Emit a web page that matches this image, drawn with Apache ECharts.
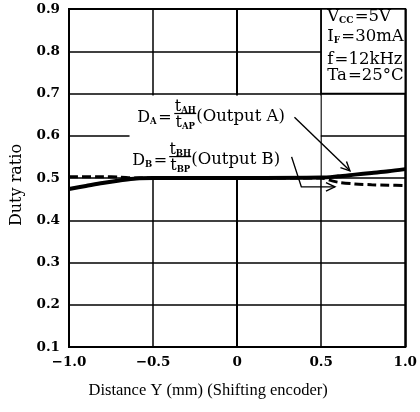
<!DOCTYPE html>
<html>
<head>
<meta charset="utf-8">
<script src="https://cdn.jsdelivr.net/npm/echarts@6/dist/echarts.min.js"></script>
<style>html,body{margin:0;padding:0;background:#fff;}#c{width:420px;height:412px;}</style>
</head>
<body>
<div id="c"></div>
<script>
// ---- data ----
const xTickLabels = {'-1': '\u22121.0', '-0.5': '\u22120.5', '0': '0', '0.5': '0.5', '1': '1.0'};
const daX = [-1.0, -0.9, -0.8, -0.7, -0.6, -0.5, 0.0, 0.5, 0.6, 0.7, 0.8, 0.9, 1.0];
const daY = [0.474, 0.481, 0.488, 0.494, 0.499, 0.500, 0.500, 0.501, 0.504, 0.508, 0.512, 0.516, 0.521];
const dbX = [-1.0, -0.8, -0.7, -0.6, 0.0, 0.5, 0.55, 0.6, 0.7, 0.8, 0.9, 1.0];
const dbY = [0.503, 0.503, 0.502, 0.500, 0.500, 0.500, 0.495, 0.490, 0.486, 0.484, 0.483, 0.482];
const conditions = [
  ['V', 'CC', '=5V'],
  ['I', 'F', '=30mA'],
  ['f', '', '=12kHz'],
  ['Ta', '', '=25\u00B0C']
];

const FONT = '"DejaVu Serif", "Liberation Serif", serif';
const FONT2 = '"Liberation Serif", "DejaVu Serif", serif';
const chart = echarts.init(document.getElementById('c'), null, {renderer: 'canvas'});

const option = {
  animation: false,
  backgroundColor: '#fff',
  grid: {left: 69, right: 11, top: 9, bottom: 65, show: true, borderColor: '#000', borderWidth: 2, backgroundColor: 'transparent'},
  xAxis: {
    type: 'value', min: -1, max: 1, interval: 0.5,
    name: 'Distance Y (mm) (Shifting encoder)', nameLocation: 'middle', nameGap: 35,
    nameTextStyle: {fontFamily: FONT2, fontSize: 16.5, color: '#000', padding: [0, 58, 0, 0]},
    axisLine: {show: true, lineStyle: {color: '#000', width: 2}},
    axisTick: {show: false},
    axisLabel: {fontFamily: FONT, fontSize: 13.5, fontWeight: 'bold', color: '#000', margin: 8,
      formatter: v => xTickLabels[String(Math.round(v * 10) / 10)] || ''},
    splitLine: {show: true, lineStyle: {color: '#000', width: 1.5}}
  },
  yAxis: {
    type: 'value', min: 0.1, max: 0.9, interval: 0.1,
    name: 'Duty ratio', nameLocation: 'middle', nameGap: 44, nameRotate: 90,
    nameTextStyle: {fontFamily: FONT, fontSize: 16, color: '#000', padding: [0, 14, 0, 0]},
    axisLine: {show: true, lineStyle: {color: '#000', width: 2}},
    axisTick: {show: false},
    axisLabel: {fontFamily: FONT, fontSize: 13.5, fontWeight: 'bold', color: '#000', margin: 9,
      formatter: v => v.toFixed(1)},
    splitLine: {show: true, lineStyle: {color: '#000', width: 1.5}}
  },
  series: [
    {
      name: 'covers', type: 'line', data: [], silent: true, z: 1,
      markArea: {
        silent: true,
        data: [
          [{coord: [-0.64, 0.695], itemStyle: {color: '#fff', borderWidth: 0}}, {coord: [0.496, 0.505]}],
          [{coord: [0.5, 0.9], itemStyle: {color: '#fff', borderColor: '#000', borderWidth: 1.5}}, {coord: [1.0, 0.7]}]
        ]
      }
    },
    {
      name: 'DA', type: 'line', smooth: 0.3, symbol: 'none', z: 3,
      data: daX.map((x, i) => [x, daY[i]]),
      lineStyle: {color: '#000', width: 4}
    },
    {
      name: 'DB', type: 'line', smooth: 0.3, symbol: 'none', z: 4,
      data: dbX.map((x, i) => [x, dbY[i]]),
      lineStyle: {color: '#000', width: 3, type: [9, 4]}
    }
  ]
};
chart.setOption(option);

function px(x, y) { return chart.convertToPixel({gridIndex: 0}, [x, y]); }

const rich = {
  m: {fontFamily: FONT, fontSize: 16, color: '#000', lineHeight: 18, verticalAlign: 'middle'},
  s: {fontFamily: FONT, fontSize: 8.5, color: '#000', fontWeight: 'bold', padding: [8, 0, 0, 0], verticalAlign: 'middle'},
  sp: {fontFamily: FONT, fontSize: 5, color: '#000'}
};

function fractionLabel(anchor, main, sub, numSub, denSub, tail) {
  const [x0, y0] = px(anchor[0], anchor[1]);
  const els = [];
  els.push({type: 'text', x: x0, y: y0, z: 10, style: {text: '{m|' + main + '}{s|' + sub + '}{sp| }{m|=}', rich: rich, align: 'left', verticalAlign: 'middle'}});
  els.push({type: 'text', x: x0 + 48, y: y0 - 11, z: 10, style: {text: '{m|t}{s|' + numSub + '}', rich: rich, align: 'center', verticalAlign: 'middle'}});
  els.push({type: 'line', z: 10, shape: {x1: x0 + 37, y1: y0 - 4.5, x2: x0 + 59, y2: y0 - 4.5}, style: {stroke: '#000', lineWidth: 1.2}});
  els.push({type: 'text', x: x0 + 48, y: y0 + 5, z: 10, style: {text: '{m|t}{s|' + denSub + '}', rich: rich, align: 'center', verticalAlign: 'middle'}});
  els.push({type: 'text', x: x0 + 59, y: y0 - 1, z: 10, style: {text: tail, font: '16.5px ' + FONT, fill: '#000', align: 'left', verticalAlign: 'middle'}});
  return els;
}

function arrow(points) {
  const pts = points.map(p => px(p[0], p[1]));
  const n = pts.length;
  const [ex, ey] = pts[n - 1];
  const [sx, sy] = pts[n - 2];
  const ang = Math.atan2(ey - sy, ex - sx);
  const L = 10, W = 0.45;
  const h1 = [ex - L * Math.cos(ang - W), ey - L * Math.sin(ang - W)];
  const h2 = [ex - L * Math.cos(ang + W), ey - L * Math.sin(ang + W)];
  return [
    {type: 'polyline', z: 10, shape: {points: pts}, style: {stroke: '#000', lineWidth: 1.4, fill: null}},
    {type: 'polyline', z: 10, shape: {points: [h1, [ex, ey], h2]}, style: {stroke: '#000', lineWidth: 1.4, fill: null}}
  ];
}

const graphics = [];
graphics.push(...fractionLabel([-0.594, 0.642], 'D', 'A', 'AH', 'AP', '(Output A)'));
graphics.push(...fractionLabel([-0.624, 0.540], 'D', 'B', 'BH', 'BP', '(Output B)'));
graphics.push(...arrow([[0.341, 0.644], [0.671, 0.517]]));
graphics.push(...arrow([[0.324, 0.550], [0.382, 0.479], [0.582, 0.479]]));

// condition box text
const boxLeft = px(0.5, 0.9);
const condY = [17, 37, 60, 76];
const richC = {
  m: {fontFamily: FONT, fontSize: 16.5, color: '#000', lineHeight: 18, verticalAlign: 'middle'},
  s: {fontFamily: FONT, fontSize: 9, color: '#000', fontWeight: 'bold', padding: [8, 0, 0, 0], verticalAlign: 'middle'},
  sp: {fontFamily: FONT, fontSize: 4, color: '#000'}
};
conditions.forEach((c, i) => {
  graphics.push({type: 'text', x: boxLeft[0] + 6, y: condY[i], z: 10,
    style: {text: '{m|' + c[0] + '}' + (c[1] ? '{s|' + c[1] + '}' : '') + '{sp| }{m|' + c[2] + '}', rich: richC, align: 'left', verticalAlign: 'middle'}});
});

chart.setOption({graphic: graphics});
</script>
</body>
</html>
